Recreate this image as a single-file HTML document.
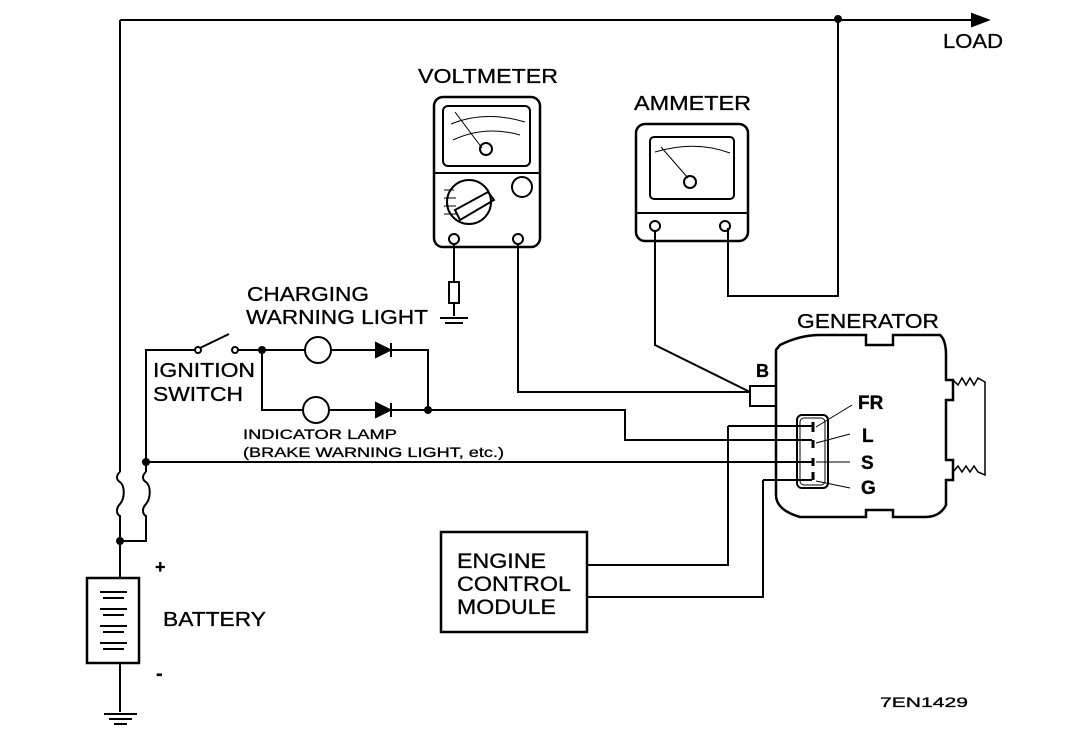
<!DOCTYPE html>
<html><head><style>
body{margin:0;background:#fff}
svg{display:block}
text{font-family:"Liberation Sans",Arial,sans-serif;fill:#000;stroke:#000;stroke-width:0.3}
</style></head><body>
<svg width="1088" height="746" viewBox="0 0 1088 746" xmlns="http://www.w3.org/2000/svg">
<g stroke="#000" stroke-width="2" fill="none">
<path d="M120 20H975"/>
<path d="M972 14L988 20L972 26Z" fill="#000"/>
<path d="M838 20V296H728V228"/>
<path d="M120 20V472"/>
<path d="M120 472c-4 3 -4 8 0 10c5 4 5 16 0 22c-4 4-4 10 0 12V578"/>
<path d="M146 472c-4 3 -4 8 0 10c5 4 5 16 0 22c-4 4-4 10 0 12V541H120"/>
<path d="M146 472V350H194"/>
<circle cx="198" cy="350" r="3" fill="#fff"/>
<circle cx="235" cy="350" r="3" fill="#fff"/>
<path d="M200 348L229 334"/>
<path d="M238 350H305M331 350H376M392 350H428V410"/>
<path d="M262 350V410H303M329 410H376M392 410H625V440H812"/>
<circle cx="318" cy="350" r="13"/>
<circle cx="316" cy="410" r="13"/>
<path d="M376 343L390 350L376 357Z" fill="#000"/><path d="M391 343V357"/>
<path d="M376 403L390 410L376 417Z" fill="#000"/><path d="M391 403V417"/>
<path d="M146 462H812"/>
<rect x="87" y="578" width="52" height="85" stroke-width="2.5"/>
<path d="M120 663V712M104 714H137M109 719H132M114 724H127"/>
<path d="M100 592H127M103 598H124M100 609H127M103 615H124M100 626H127M103 632H124M100 643H127M103 649H124"/>
<rect x="434" y="97" width="106" height="150" rx="9" stroke-width="2.5"/>
<path d="M434 173H540"/>
<rect x="443" y="106" width="87" height="60" rx="5"/>
<path d="M451 124Q485 110 525 122M453 140Q485 125 520 135M455 112L482 148" stroke-width="1"/>
<circle cx="486" cy="149" r="6"/>
<circle cx="469" cy="202" r="22"/>
<path d="M455 210L488 192L494 200L460 220Z"/>
<circle cx="522" cy="187" r="10"/>
<path d="M444 190h10M444 198h12M444 206h12M444 214h12" stroke-width="1"/>
<circle cx="454" cy="239" r="5"/><circle cx="518" cy="239" r="5"/>
<path d="M454 244V282M454 303V316M440 318H468M445 323H463"/>
<rect x="449" y="282" width="10" height="21"/>
<path d="M518 244V392H750"/>
<rect x="636" y="124" width="112" height="117" rx="9" stroke-width="2.5"/>
<path d="M636 213H748"/>
<rect x="650" y="137" width="84" height="62" rx="4"/>
<path d="M655 152Q695 140 730 153M661 147L688 178" stroke-width="1"/>
<circle cx="690" cy="182" r="6"/>
<circle cx="655" cy="226" r="5"/><circle cx="725" cy="226" r="5"/>
<path d="M655 231V345L750 392"/>
<path d="M780 345Q800 335 820 335H866V345H893V335H940Q946 340 946 355V380H953V400H946V460H953V480H946V505Q940 517 925 517H893V510H866V517H800Q776 510 776 495V350Z" stroke-width="2.5"/>
<path d="M953 380L958 385L962 378L966 385L970 378L974 385L978 378L985 382V475L978 472L974 466L970 472L966 466L962 472L958 466L953 472" stroke-width="1.5"/>
<rect x="750" y="386" width="26" height="20"/>
<rect x="797" y="415" width="31" height="73" rx="5"/>
<rect x="800" y="418" width="25" height="67" rx="4" stroke-width="1"/>
<path d="M813 422V432M813 440V448M813 458V466M813 472V480" stroke-width="3"/>
<path d="M816 427L852 405M816 443L850 434M816 462H850M816 481L850 488" stroke-width="1"/>
<path d="M728 426H812M728 426V565H587"/>
<path d="M763 480H812M763 480V597H587"/>
<rect x="441" y="532" width="146" height="100" stroke-width="2.5"/>
</g>
<g fill="#000">
<circle cx="838" cy="19" r="4"/><circle cx="262" cy="350" r="4"/><circle cx="428" cy="410" r="4"/>
<circle cx="146" cy="462" r="4"/><circle cx="120" cy="541" r="4"/>
</g>
<g lengthAdjust="spacingAndGlyphs">
<text x="943" y="48" font-size="20" textLength="60" lengthAdjust="spacingAndGlyphs">LOAD</text>
<text x="418" y="83" font-size="20" textLength="140" lengthAdjust="spacingAndGlyphs">VOLTMETER</text>
<text x="634" y="110" font-size="20" textLength="117" lengthAdjust="spacingAndGlyphs">AMMETER</text>
<text x="797" y="328" font-size="20" textLength="142" lengthAdjust="spacingAndGlyphs">GENERATOR</text>
<text x="247" y="301" font-size="20" textLength="122" lengthAdjust="spacingAndGlyphs">CHARGING</text>
<text x="246" y="324" font-size="20" textLength="182" lengthAdjust="spacingAndGlyphs">WARNING LIGHT</text>
<text x="153" y="377" font-size="20" textLength="102" lengthAdjust="spacingAndGlyphs">IGNITION</text>
<text x="153" y="401" font-size="20" textLength="90" lengthAdjust="spacingAndGlyphs">SWITCH</text>
<text x="243" y="439" font-size="14" textLength="154" lengthAdjust="spacingAndGlyphs">INDICATOR LAMP</text>
<text x="243" y="457" font-size="14" textLength="261" lengthAdjust="spacingAndGlyphs">(BRAKE WARNING LIGHT, etc.)</text>
<text x="457" y="568" font-size="21" textLength="89" lengthAdjust="spacingAndGlyphs">ENGINE</text>
<text x="457" y="591" font-size="21" textLength="114" lengthAdjust="spacingAndGlyphs">CONTROL</text>
<text x="457" y="614" font-size="21" textLength="99" lengthAdjust="spacingAndGlyphs">MODULE</text>
<text x="163" y="626" font-size="20" textLength="103" lengthAdjust="spacingAndGlyphs">BATTERY</text>
<text x="880" y="707" font-size="14" font-family="Liberation Mono,monospace" textLength="88" lengthAdjust="spacingAndGlyphs">7EN1429</text>
</g>
<text x="756" y="377" font-size="18" font-weight="bold">B</text>
<text x="858" y="409" font-size="19" font-weight="bold">FR</text>
<text x="862" y="442" font-size="19" font-weight="bold">L</text>
<text x="861" y="469" font-size="19" font-weight="bold">S</text>
<text x="861" y="494" font-size="19" font-weight="bold">G</text>
<text x="155" y="573" font-size="18" font-weight="bold">+</text>
<text x="156" y="680" font-size="20" font-weight="bold">-</text>
</svg>
</body></html>
